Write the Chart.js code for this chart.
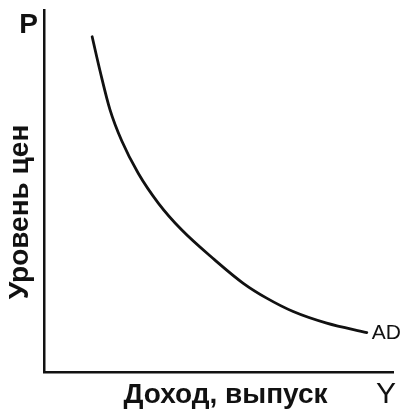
<!DOCTYPE html>
<html>
<head>
<meta charset="utf-8">
<script src="https://cdn.jsdelivr.net/npm/chart.js@4"></script>
<style>
  html, body { margin: 0; padding: 0; background: #fff; }
  #wrap { width: 406px; height: 413px; }
</style>
</head>
<body>
<div id="wrap"><canvas id="c" width="406" height="413"></canvas></div>
<script>
// Aggregate demand curve: output (x) against price level (y), both on 0..100
const outputLevels = [13.8, 16.1, 18.9, 22.3, 27.0, 32.8, 39.5, 49.0, 57.1, 63.8, 71.4, 81.0, 92.5];
const priceLevels  = [92.6, 83.0, 72.5, 63.8, 54.9, 46.6, 39.2, 30.9, 24.5, 20.4, 16.7, 13.5, 10.9];

const curveLabel = 'AD';
const yAxisTitle = 'Уровень цен';
const xAxisTitle = 'Доход, выпуск';
const yAxisSymbol = 'P';
const xAxisSymbol = 'Y';

const FONT = '"Liberation Sans", Arial, Helvetica, sans-serif';
const INK = '#111';

const points = outputLevels.map((x, i) => ({ x, y: priceLevels[i] }));

// Axis titles, axis symbols and the curve's name
const annotations = {
  id: 'annotations',
  afterDatasetsDraw(chart) {
    const { ctx, chartArea: a } = chart;
    ctx.save();
    ctx.fillStyle = INK;

    // axis symbols
    ctx.font = `bold 28px ${FONT}`;
    ctx.textAlign = 'right';
    ctx.textBaseline = 'alphabetic';
    ctx.fillText(yAxisSymbol, a.left - 6, a.top + 23);

    ctx.font = `30px ${FONT}`;
    ctx.textAlign = 'left';
    ctx.fillText(xAxisSymbol, a.right - 17, a.bottom + 31);

    // axis titles
    ctx.font = `bold 28px ${FONT}`;
    ctx.textAlign = 'center';
    ctx.fillText(xAxisTitle, (a.left + a.right) / 2 + 7, a.bottom + 31);

    ctx.save();
    ctx.translate(a.left - 16, (a.top + a.bottom) / 2 + 21);
    ctx.rotate(-Math.PI / 2);
    ctx.fillText(yAxisTitle, 0, 0);
    ctx.restore();

    // curve name next to its last point
    const meta = chart.getDatasetMeta(0);
    const last = meta.data[meta.data.length - 1];
    ctx.font = `21px ${FONT}`;
    ctx.textAlign = 'left';
    ctx.textBaseline = 'middle';
    ctx.fillText(curveLabel, last.x + 5, last.y + 1);
    ctx.restore();
  }
};

const axisBase = {
  type: 'linear',
  min: 0,
  max: 100,
  ticks: { display: false },
  grid: { display: false, drawTicks: false },
  border: { display: true, color: INK, width: 2.5 },
  title: { display: false }
};

new Chart(document.getElementById('c'), {
  type: 'line',
  data: {
    datasets: [{
      label: curveLabel,
      data: points,
      borderColor: INK,
      borderWidth: 2.8,
      borderCapStyle: 'round',
      borderJoinStyle: 'round',
      pointRadius: 0,
      fill: false,
      cubicInterpolationMode: 'monotone'
    }]
  },
  options: {
    responsive: false,
    animation: false,
    devicePixelRatio: 1,
    layout: { padding: { left: 44, right: 13, top: 10, bottom: 41 } },
    plugins: {
      legend: { display: false },
      tooltip: { enabled: false }
    },
    scales: {
      x: Object.assign({}, axisBase, { position: 'bottom' }),
      y: Object.assign({}, axisBase, { position: 'left' })
    }
  },
  plugins: [annotations]
});
</script>
</body>
</html>
